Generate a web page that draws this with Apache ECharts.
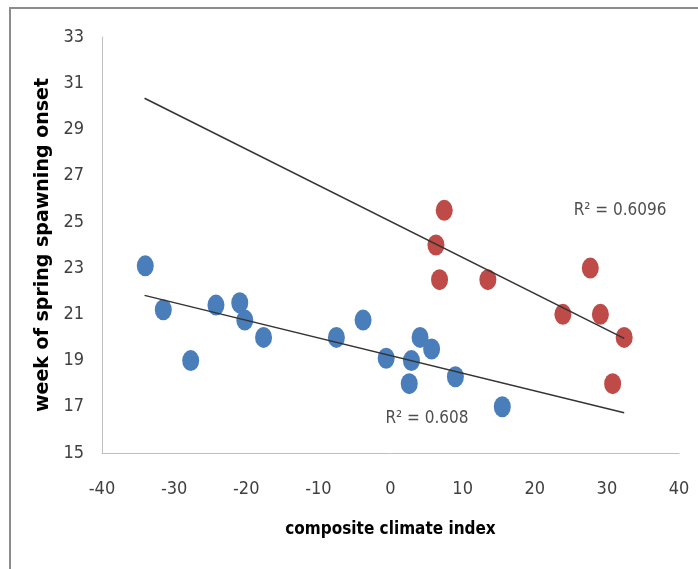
<!DOCTYPE html>
<html>
<head>
<meta charset="utf-8">
<script src="https://cdn.jsdelivr.net/npm/echarts@6/dist/echarts.min.js"></script>
<style>
  html, body { margin: 0; padding: 0; background: #fff; }
  #frame { position: absolute; left: 9px; top: 7px; width: 700px; height: 580px;
           border-top: 2px solid #8c8c8c; border-left: 2px solid #8c8c8c; }
  #chart { position: absolute; left: 0; top: 0; width: 698px; height: 569px; }
</style>
</head>
<body>
<div id="frame"></div>
<div id="chart"></div>
<script>
// Blue group: [composite climate index, week of spring spawning onset]
const blueX = [-34.0, -31.5, -27.7, -24.2, -20.9, -20.2, -17.6, -7.5, -3.8, -0.6, 2.9, 2.6, 4.1, 5.7, 9.0, 15.5];
const blueY = [23.1, 21.2, 19.0, 21.4, 21.5, 20.75, 20.0, 20.0, 20.75, 19.1, 19.0, 18.0, 20.0, 19.5, 18.3, 17.0];
// Red group
const redX = [7.45, 6.3, 6.8, 13.5, 27.7, 23.9, 29.1, 32.4, 30.8];
const redY = [25.5, 24.0, 22.5, 22.5, 23.0, 21.0, 21.0, 20.0, 18.0];
// Trend line endpoints
const blueTrendX = [-34.1, 32.4];
const blueTrendY = [21.82, 16.74];
const redTrendX = [-34.1, 32.4];
const redTrendY = [30.35, 19.96];
// R² annotations
const r2Labels = ['R\u00B2 = 0.608', 'R\u00B2 = 0.6096'];
const r2X = [-0.7, 25.4];
const r2Y = [16.5, 25.5];
// Axes
const xMin = -40, xMax = 40, xStep = 10;
const yMin = 15, yMax = 33, yStep = 2;
const xTitle = 'composite climate index';
const yTitle = 'week of spring spawning onset';

const zip = (a, b) => a.map((v, i) => [v, b[i]]);
const narrow = "'Liberation Sans Narrow', 'DejaVu Sans Condensed', 'Liberation Sans', sans-serif";

const chart = echarts.init(document.getElementById('chart'), null, { renderer: 'canvas' });
chart.setOption({
  animation: false,
  backgroundColor: 'transparent',
  grid: { left: 102, right: 19, top: 37, bottom: 116 },
  xAxis: {
    type: 'value', min: xMin, max: xMax, interval: xStep,
    axisLine: { show: true, onZero: false, lineStyle: { color: '#bfbfbf', width: 1 } },
    axisTick: { show: false },
    splitLine: { show: false },
    axisLabel: { color: '#404040', fontFamily: narrow, fontSize: 18, margin: 27 },
    name: xTitle, nameLocation: 'middle', nameGap: 68,
    nameTextStyle: { color: '#000', fontFamily: narrow, fontWeight: 'bold', fontSize: 17 }
  },
  yAxis: {
    type: 'value', min: yMin, max: yMax, interval: yStep,
    axisLine: { show: true, onZero: false, lineStyle: { color: '#bfbfbf', width: 1 } },
    axisTick: { show: false },
    splitLine: { show: false },
    axisLabel: { color: '#404040', fontFamily: narrow, fontSize: 18, margin: 18 },
    name: yTitle, nameLocation: 'middle', nameGap: 47, nameRotate: 90,
    nameTextStyle: { color: '#000', fontFamily: "'DejaVu Sans', sans-serif", fontWeight: 'bold', fontSize: 19 }
  },
  series: [
    { type: 'line', data: zip(blueTrendX, blueTrendY), showSymbol: false, silent: true,
      lineStyle: { color: '#333', width: 1.5 }, z: 3 },
    { type: 'line', data: zip(redTrendX, redTrendY), showSymbol: false, silent: true,
      lineStyle: { color: '#333', width: 1.5 }, z: 3 },
    { type: 'scatter', data: zip(blueX, blueY), symbol: 'circle', symbolSize: [17, 21],
      itemStyle: { color: '#4a7ebb', opacity: 1 }, z: 2 },
    { type: 'scatter', data: zip(redX, redY), symbol: 'circle', symbolSize: [17, 21],
      itemStyle: { color: '#be4b48', opacity: 1 }, z: 2 },
    { type: 'scatter', data: zip(r2X, r2Y).map((p, i) => ({ value: p, label: { formatter: r2Labels[i] } })),
      symbolSize: 0, silent: true, z: 4,
      label: { show: true, position: 'right', distance: 0, color: '#222', fontFamily: narrow, fontSize: 17 } }
  ]
});
</script>
</body>
</html>
